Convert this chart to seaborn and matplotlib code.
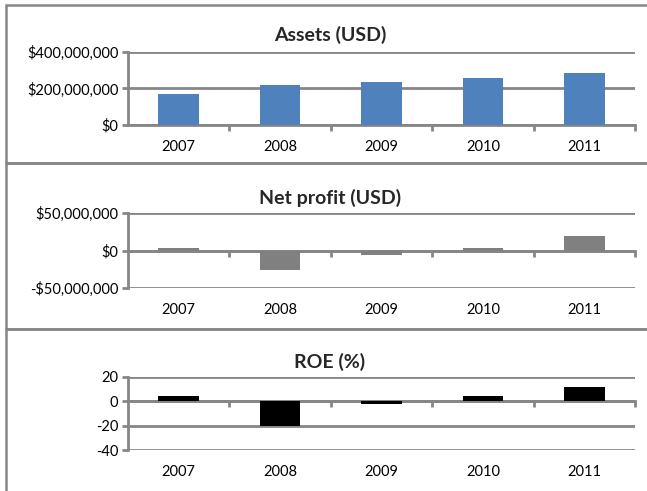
import matplotlib
matplotlib.use("Agg")
import matplotlib.pyplot as plt
import matplotlib.ticker as mticker
from matplotlib.patches import Rectangle
import seaborn as sns

# data
years = ["2007", "2008", "2009", "2010", "2011"]
assets = [172e6, 218e6, 234e6, 256e6, 287e6]
net_profit = [3.6e6, -26.3e6, -5.5e6, 3.6e6, 19.2e6]
roe = [4.0, -20.5, -1.8, 4.0, 12.0]

titles = ["Assets (USD)", "Net profit (USD)", "ROE (%)"]

sns.set_style("white")
plt.rcParams["font.family"] = ["Lato", "DejaVu Sans"]

GRID = "#868686"
W, H = 647, 491

fig = plt.figure(figsize=(W / 100, H / 100), dpi=100)


def rect(x0, y0, x1, y1):
    return [x0 / W, 1 - y1 / H, (x1 - x0) / W, (y1 - y0) / H]


def money(v, pos):
    s = f"${abs(v):,.0f}"
    return "-" + s if v < 0 else s


panels = [
    dict(vals=assets, color="#4F81BD", lim=(0, 400e6), ticks=[0, 200e6, 400e6],
         fmt=mticker.FuncFormatter(money), box=(6, 5, 660, 163), ax=(128, 52, 635, 125), ty=35),
    dict(vals=net_profit, color="#808080", lim=(-50e6, 50e6), ticks=[-50e6, 0, 50e6],
         fmt=mticker.FuncFormatter(money), box=(6, 163, 660, 329), ax=(128, 213, 635, 288), ty=198),
    dict(vals=roe, color="#000000", lim=(-40, 20), ticks=[-40, -20, 0, 20],
         fmt=mticker.FormatStrFormatter("%d"), box=(6, 329, 660, 495), ax=(128, 377, 635, 450), ty=362),
]

for p, title in zip(panels, titles):
    x0, y0, x1, y1 = p["box"]
    fig.add_artist(Rectangle((x0 / W, 1 - y1 / H), (x1 - x0) / W, (y1 - y0) / H,
                             transform=fig.transFigure, fill=False,
                             edgecolor=GRID, linewidth=1.8))
    fig.text(330 / W, 1 - p["ty"] / H, title, ha="center", va="center",
             fontsize=14, fontweight="bold")

    ax = fig.add_axes(rect(*p["ax"]))
    sns.barplot(x=years, y=p["vals"], color=p["color"], saturation=1,
                width=0.4, linewidth=0, ax=ax, zorder=2)
    ax.set_xlim(-0.5, 4.5)
    ax.set_ylim(*p["lim"])
    ax.set_yticks(p["ticks"])
    ax.yaxis.set_major_formatter(p["fmt"])
    ax.yaxis.grid(True, color=GRID, linewidth=2)
    ax.set_axisbelow(True)
    for s in ["top", "right", "bottom"]:
        ax.spines[s].set_visible(False)
    ax.spines["left"].set_color(GRID)
    ax.spines["left"].set_linewidth(2)
    ax.tick_params(axis="y", left=True, length=4, width=2, color=GRID,
                   labelsize=10.5, labelcolor="black", pad=3)
    ax.tick_params(axis="x", bottom=False, labelsize=10.5, labelcolor="black", pad=7)
    ax.set_xlabel("")
    ax.set_ylabel("")

    # category axis crossing at zero with tick marks between categories
    sec = ax.secondary_xaxis(0, transform=ax.transData)
    sec.set_xticks([0.5, 1.5, 2.5, 3.5, 4.5])
    sec.tick_params(length=4, width=2, color=GRID, labelbottom=False)
    sec.spines["bottom"].set_color(GRID)
    sec.spines["bottom"].set_linewidth(2)

fig.savefig("out.png", dpi=100)
